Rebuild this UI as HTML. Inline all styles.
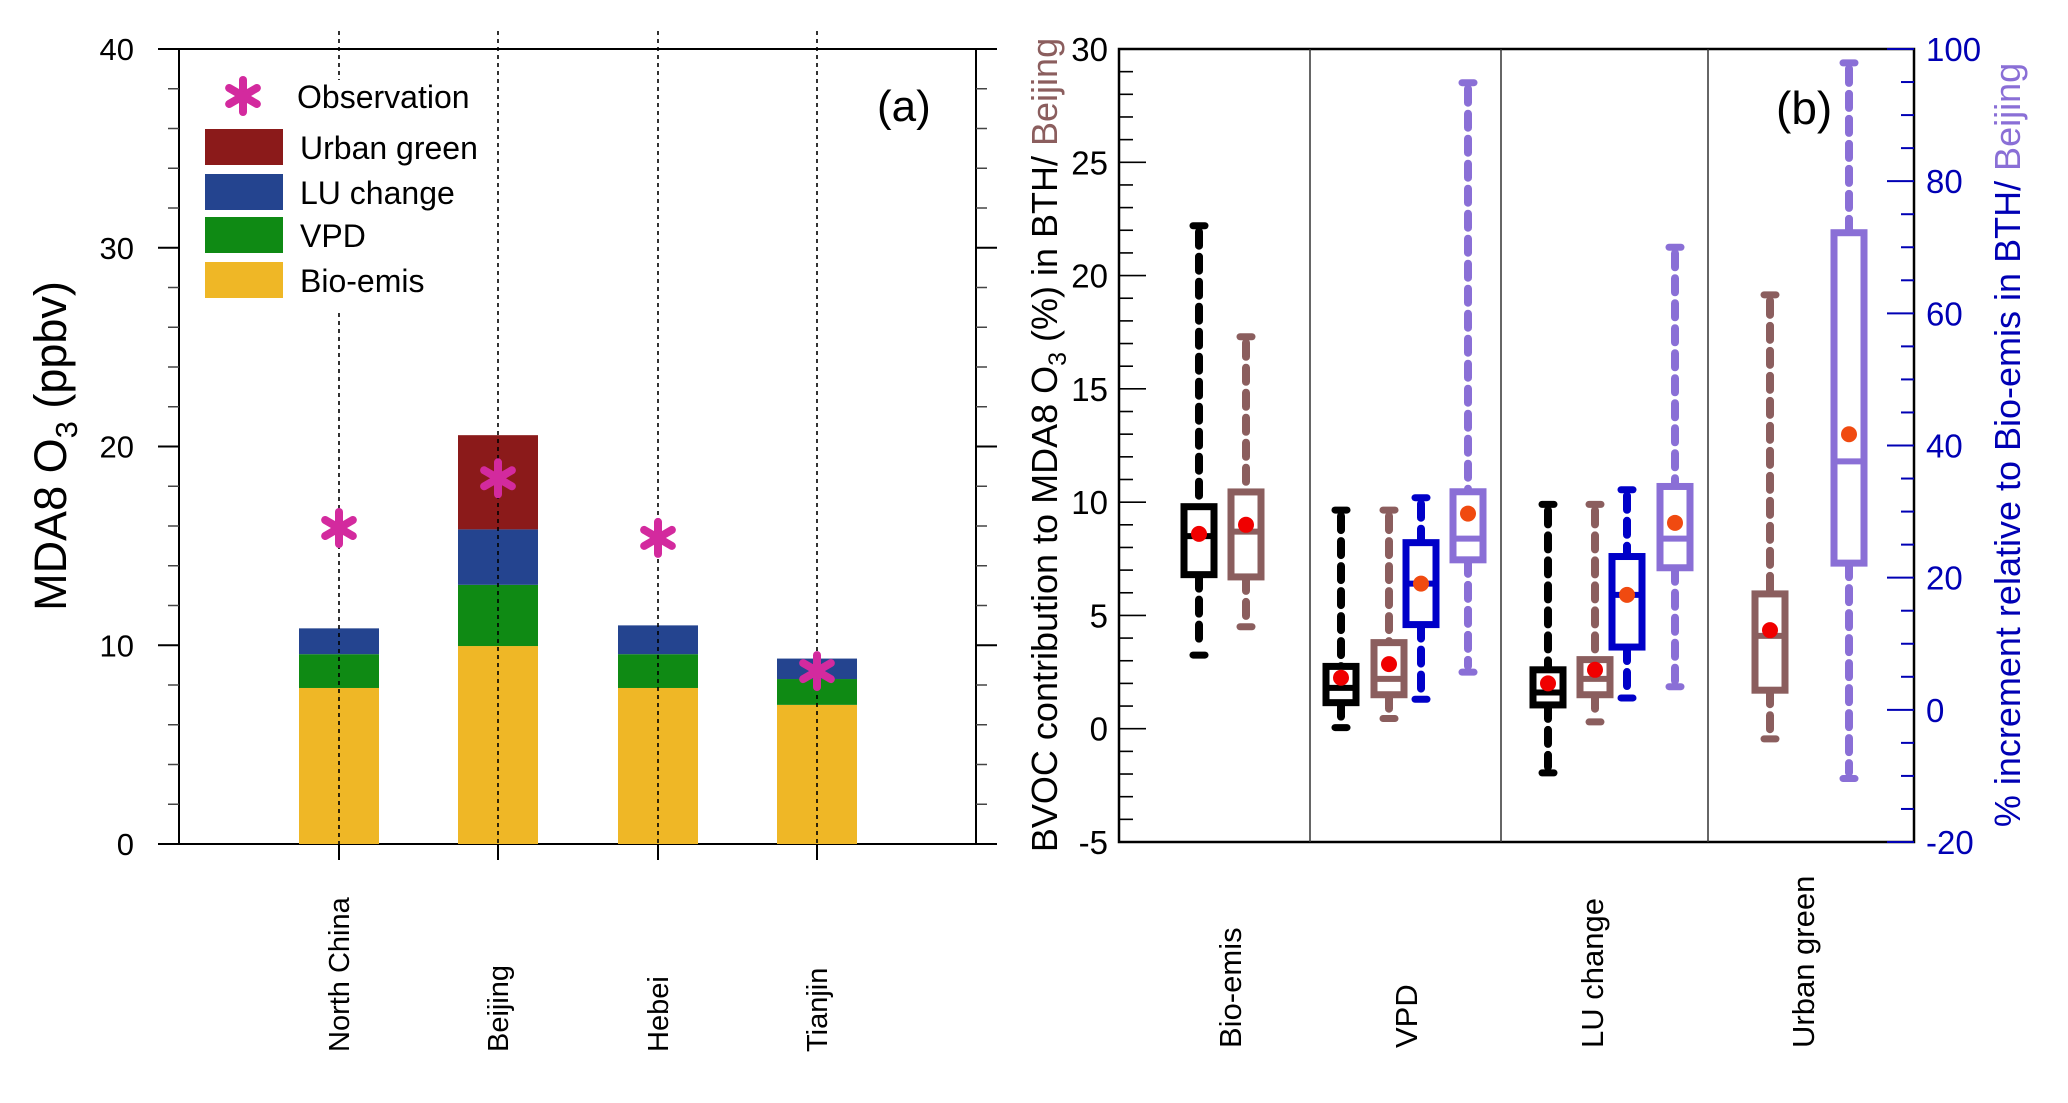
<!DOCTYPE html>
<html><head><meta charset="utf-8"><style>
html,body{margin:0;padding:0;background:#fff}
svg{display:block;font-family:"Liberation Sans",sans-serif}
</style></head><body>
<svg id="fig" width="2068" height="1103" viewBox="0 0 2068 1103" xmlns="http://www.w3.org/2000/svg">
<g id="pa"></g>
<g id="pb"></g>
</svg>
<script>
// ---- Panel (a) data ----
const regions = ["North China","Beijing","Hebei","Tianjin"];
const bioEmis = [7.85, 9.96, 7.85, 7.0];
const vpd     = [1.7, 3.08, 1.7, 1.3];
const luChange= [1.3, 2.79, 1.45, 1.03];
const urbanGreen=[0, 4.74, 0, 0];
const observation=[15.9, 18.4, 15.4, 8.7];
const aTicks=[0,10,20,30,40];

// ---- Panel (b) data ---- [low, q1, median, q3, high, mean]
const groups=["Bio-emis","VPD","LU change","Urban green"];
const bthLeft = {"Bio-emis":[3.25,6.8,8.5,9.8,22.2,8.6],"VPD":[0.05,1.15,1.8,2.75,9.65,2.25],"LU change":[-1.95,1.05,1.6,2.6,9.9,2.0]};
const bjLeft  = {"Bio-emis":[4.5,6.7,8.7,10.45,17.3,9.0],"VPD":[0.45,1.5,2.2,3.8,9.65,2.85],"LU change":[0.3,1.5,2.2,3.05,9.9,2.6],"Urban green":[-0.45,1.7,4.1,5.95,19.15,4.35]};
const bthRight= {"VPD":[1.6,12.9,19.1,25.3,32.1,19.1],"LU change":[1.8,9.5,17.4,23.2,33.3,17.4]};
const bjRight = {"VPD":[5.7,22.7,25.9,33.0,94.9,29.7],"LU change":[3.5,21.5,25.9,33.8,70.0,28.3],"Urban green":[-10.4,22.2,37.6,72.2,97.9,41.7]};
const bLeftTicks=[-5,0,5,10,15,20,25,30];
const bRightTicks=[-20,0,20,40,60,80,100];

const NS="http://www.w3.org/2000/svg";
function mk(parent,tag,attrs,text){const e=document.createElementNS(NS,tag);for(const k in attrs)e.setAttribute(k,attrs[k]);if(text!==undefined)e.textContent=text;parent.appendChild(e);return e;}

// ===== Panel A =====
const pa=document.getElementById('pa');
const aL=179,aR=976,aT=49,aB=844;
const ya=v=>aB-(v/40)*(aB-aT);
const catX=[339,498,658,817];
const xa=i=>catX[i];
let fr=mk(pa,'rect',{x:aL,y:aT,width:aR-aL,height:aB-aT,fill:'none',stroke:'#000','stroke-width':2});

for(let v=0;v<=40;v+=2){
  const major=v%10===0;const y=ya(v);
  mk(pa,'line',{x1:aL-(major?21:11),x2:aL,y1:y,y2:y,stroke:major?'#000':'#444','stroke-width':major?2:1.5});
  mk(pa,'line',{x1:aR,x2:aR+(major?21:11),y1:y,y2:y,stroke:major?'#000':'#444','stroke-width':major?2:1.5});
}
aTicks.forEach(v=>{const t=mk(pa,'text',{x:134,y:ya(v)+11,'text-anchor':'end','font-size':31},String(v));
  });
let yt=mk(pa,'text',{x:0,y:0,transform:'translate(66,446) rotate(-90)','text-anchor':'middle','font-size':45},'');

yt.innerHTML='MDA8 O<tspan font-size="31" dy="11">3</tspan><tspan dy="-11"> (ppbv)</tspan>';
const stackCols=['#efb726','#0f8a14','#24448f','#8b1a1a'];
const series=[bioEmis,vpd,luChange,urbanGreen];
const sNames=['bio-emis','vpd','lu-change','urban-green'];
regions.forEach((r,i)=>{
  let base=0;
  series.forEach((s,k)=>{
    if(s[i]>0){const b=mk(pa,'rect',{x:xa(i)-40,y:ya(base+s[i]),width:80,height:ya(base)-ya(base+s[i]),fill:stackCols[k]});
      }
    base+=s[i];
  });
  mk(pa,'line',{x1:xa(i),x2:xa(i),y1:aB,y2:aB+16,stroke:'#000','stroke-width':2});
  const t=mk(pa,'text',{x:0,y:0,transform:`translate(${xa(i)+10},1052) rotate(-90)`,'font-size':29},r);
  
});
regions.forEach((r,i)=>{
  if(i===0){mk(pa,'line',{x1:xa(i),x2:xa(i),y1:31,y2:80,stroke:'#000','stroke-width':1.6,'stroke-dasharray':'4 4'});
    mk(pa,'line',{x1:xa(i),x2:xa(i),y1:313,y2:860,stroke:'#000','stroke-width':1.6,'stroke-dasharray':'4 4'});}
  else mk(pa,'line',{x1:xa(i),x2:xa(i),y1:31,y2:860,stroke:'#000','stroke-width':1.6,'stroke-dasharray':'4 4'});
});
function star(parent,cx,cy,r){const g=mk(parent,'g',{});
  for(let k=0;k<3;k++){const a=Math.PI/2+k*Math.PI/3;
    mk(g,'line',{x1:cx-r*Math.cos(a),y1:cy-r*Math.sin(a),x2:cx+r*Math.cos(a),y2:cy+r*Math.sin(a),stroke:'#d32a9e','stroke-width':8,'stroke-linecap':'round'});}
  return g;}
observation.forEach((v,i)=>{const s=star(pa,xa(i),ya(v),16);});
const lg=mk(pa,'g',{});
star(lg,243,96,16);
mk(lg,'text',{x:297,y:108,'font-size':32},'Observation');
const legRows=[['Urban green','#8b1a1a',129],['LU change','#24448f',174],['VPD','#0f8a14',217],['Bio-emis','#efb726',262]];
legRows.forEach(([n,c,y])=>{const r=mk(lg,'rect',{x:205,y:y,width:78,height:36,fill:c});
  
  mk(lg,'text',{x:300,y:y+30,'font-size':32},n);});
let la=mk(pa,'text',{x:877,y:121,'font-size':44},'(a)');

// ===== Panel B =====
const pb=document.getElementById('pb');
const bL=1119,bR=1914,bT=49,bB=842;
const yl=v=>bB-(v+5)/35*(bB-bT);
const yr=v=>bB-(v+20)/120*(bB-bT);
let fb=mk(pb,'rect',{x:bL,y:bT,width:bR-bL,height:bB-bT,fill:'none',stroke:'#000','stroke-width':2.5});

[1310,1501,1708].forEach(x=>mk(pb,'line',{x1:x,x2:x,y1:bT,y2:bB,stroke:'#333','stroke-width':1.5}));
for(let v=-5;v<=30;v++){const major=v%5===0;mk(pb,'line',{x1:bL,x2:bL+(major?27:14),y1:yl(v),y2:yl(v),stroke:'#000','stroke-width':1.6});}
for(let v=-20;v<=100;v+=5){const major=v%20===0;mk(pb,'line',{x1:bR-(major?27:13),x2:bR,y1:yr(v),y2:yr(v),stroke:'#0000b4','stroke-width':2});}
bLeftTicks.forEach(v=>{const t=mk(pb,'text',{x:1108,y:yl(v)+12,'text-anchor':'end','font-size':33},String(v));});
bRightTicks.forEach(v=>{const t=mk(pb,'text',{x:1926,y:yr(v)+12,'font-size':33,fill:'#0000b4'},String(v));});
let lt=mk(pb,'text',{x:0,y:0,transform:'translate(1057,445) rotate(-90)','text-anchor':'middle','font-size':36},'');

lt.innerHTML='BVOC contribution to MDA8 O<tspan font-size="25" dy="9">3</tspan><tspan dy="-9"> (%) in BTH/ </tspan><tspan fill="#8b5e5e">Beijing</tspan>';
let rt=mk(pb,'text',{x:0,y:0,transform:'translate(2020,445) rotate(-90)','text-anchor':'middle','font-size':36,fill:'#0000b4'},'');

rt.innerHTML='% increment relative to Bio-emis in BTH/ <tspan fill="#8a6fd6">Beijing</tspan>';
let lb=mk(pb,'text',{x:1776,y:124,'font-size':46},'(b)');
const grpLabelX=[1230,1406,1592,1803];
groups.forEach((g,i)=>{const t=mk(pb,'text',{x:0,y:0,transform:`translate(${grpLabelX[i]+11},1048) rotate(-90)`,'font-size':31},g);
  });
const boxX={"Bio-emis":[1199,1246],"VPD":[1341,1389,1421,1468],"LU change":[1548,1595,1627,1675],"Urban green":[null,1770,null,1849]};
function box(x,d,yf,col,dot,name){
  const g=mk(pb,'g',{});
  const [lo,q1,md,q3,hi,mn]=d;
  mk(g,'line',{x1:x,x2:x,y1:yf(hi)+6,y2:yf(q3),stroke:col,'stroke-width':8,'stroke-dasharray':'14 11','stroke-linecap':'round'});
  mk(g,'line',{x1:x,x2:x,y1:yf(q1),y2:yf(lo)-6,stroke:col,'stroke-width':8,'stroke-dasharray':'14 11','stroke-linecap':'round'});
  mk(g,'line',{x1:x-6,x2:x+6,y1:yf(hi),y2:yf(hi),stroke:col,'stroke-width':7,'stroke-linecap':'round'});
  mk(g,'line',{x1:x-6,x2:x+6,y1:yf(lo),y2:yf(lo),stroke:col,'stroke-width':7,'stroke-linecap':'round'});
  mk(g,'rect',{x:x-15,y:yf(q3),width:30,height:yf(q1)-yf(q3),fill:'#fff',stroke:col,'stroke-width':7});
  mk(g,'line',{x1:x-15,x2:x+15,y1:yf(md),y2:yf(md),stroke:col,'stroke-width':6});
  mk(g,'circle',{cx:x,cy:yf(mn),r:8,fill:dot});
}
groups.forEach(gn=>{const xs=boxX[gn];
  if(bthLeft[gn])box(xs[0],bthLeft[gn],yl,'#000','#f00000','box-bth-'+gn);
  if(bjLeft[gn])box(xs[1],bjLeft[gn],yl,'#8b5e5e','#f00000','box-beijing-'+gn);
  if(bthRight[gn])box(xs[2],bthRight[gn],yr,'#0000c8','#f04a10','box-bth-increment-'+gn);
  if(bjRight[gn])box(xs[3],bjRight[gn],yr,'#8a6fd6','#f04a10','box-beijing-increment-'+gn);
});
</script>
</body></html>
